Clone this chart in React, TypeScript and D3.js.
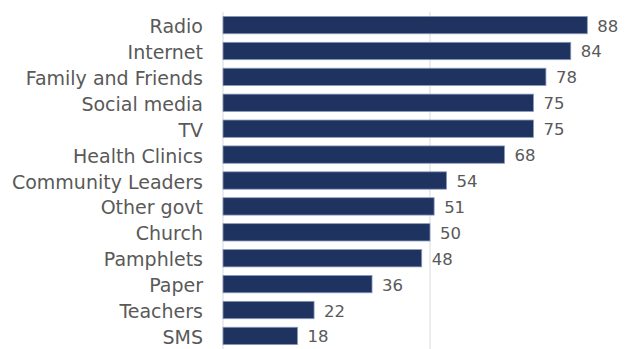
import React from "react";
import * as d3 from "d3";

const categories = ["Radio","Internet","Family and Friends","Social media","TV","Health Clinics","Community Leaders","Other govt","Church","Pamphlets","Paper","Teachers","SMS"];
const values = [88,84,78,75,75,68,54,51,50,48,36,22,18];
const xTicks = [0,50,100];

export default function App() {
  const W = 630, H = 349;
  const x = d3.scaleLinear().domain([0,100]).range([223, 637]);
  const y = d3.scaleBand().domain(categories).range([12, 349]).paddingInner(0.33).paddingOuter(0.17);
  const font = "'DejaVu Sans', sans-serif";
  return (
    <svg width={W} height={H} style={{position:"absolute", left:0, top:0}}>
      <rect width={W} height={H} fill="#fff"/>
      {xTicks.map(t => (
        <line key={t} x1={x(t)} x2={x(t)} y1={12} y2={349} stroke="#d9d9d9" strokeWidth={1}/>
      ))}
      {categories.map((c,i) => (
        <g key={c}>
          <rect x={x(0)} y={y(c)!} width={x(values[i]) - x(0)} height={y.bandwidth()} fill="#1f3361" stroke="#8b9bbd" strokeWidth={0.8}/>
          <text x={x(values[i]) + 10} y={y(c)! + y.bandwidth()/2 + 1} dominantBaseline="central" fontFamily={font} fontSize={16.5} fill="#595959">{values[i]}</text>
          <text x={203} y={y(c)! + y.bandwidth()/2 + 1} dominantBaseline="central" textAnchor="end" fontFamily={font} fontSize={19} fill="#595959">{c}</text>
        </g>
      ))}
    </svg>
  );
}
